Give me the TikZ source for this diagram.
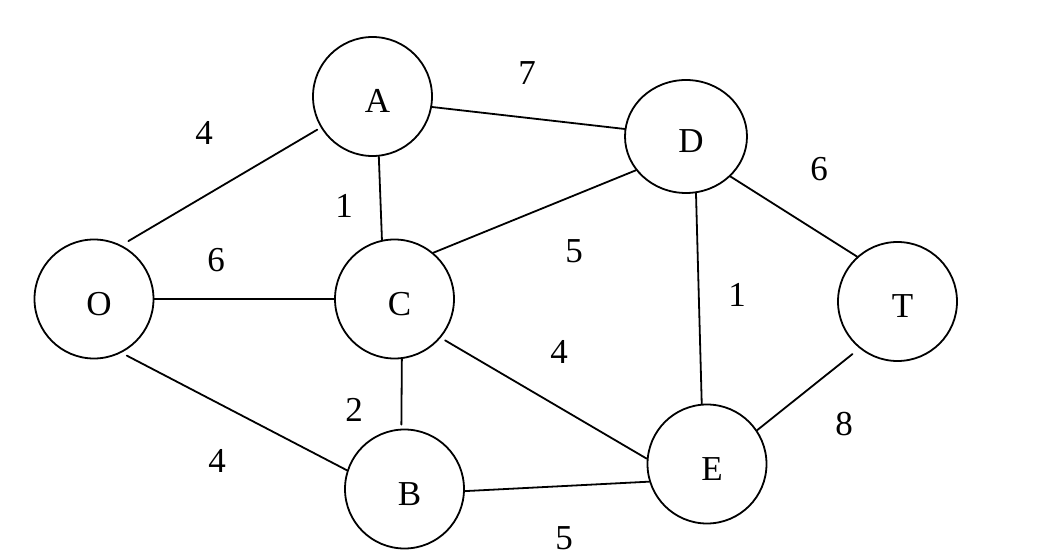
\documentclass[tikz,border=0pt]{standalone}
\usepackage{fontspec}
\setmainfont{Liberation Serif}
\usetikzlibrary{shapes.geometric}

\begin{document}
\begin{tikzpicture}[line cap=round,line join=round,x=1pt,y=1pt,
    vertex/.style={draw=black,line width=1.8pt,circle,minimum size=119pt,inner sep=0pt,text height=32pt,text depth=0pt,
      execute at begin node={\hspace*{10pt}},font=\fontsize{35}{42}\selectfont},
    oval/.style={vertex,ellipse,minimum width=122pt,minimum height=113pt},
    edge/.style={draw=black,line width=1.8pt},
    weight/.style={inner sep=0pt,font=\fontsize{35}{42}\selectfont}]
    \useasboundingbox (0,0) rectangle (1062,555);
    \node[vertex] (O) at (94,256) {O};
    \node[vertex] (A) at (372.5,458.5) {A};
    \node[vertex] (C) at (394.5,256) {C};
    \node[vertex] (B) at (404.5,66) {B};
    \node[oval] (D) at (686,418.5) {D};
    \node[vertex] (E) at (707,91) {E};
    \node[vertex] (T) at (897.5,253.5) {T};
    \draw[edge,shorten <=8pt,shorten >=4pt] (O.63) -- (A.211);
    \draw[edge] (O.east) -- (C.west);
    \draw[edge,shorten <=6pt] (O.297) -- (B.162);
    \draw[edge] (A.276) -- (C.102);
    \draw[edge] (A.350) -- (D.173);
    \draw[edge] (C.50) -- (D.214);
    \draw[edge,shorten <=5pt] (C.320) -- (E.175);
    \draw[edge,shorten >=4pt] (C.277) -- (B.93);
    \draw[edge] (B.358) -- (E.197);
    \draw[edge] (D.280) -- (E.95);
    \draw[edge] (D.318) -- (T.132);
    \draw[edge,shorten <=9pt] (T.231) -- (E.34);
    \foreach \w/\x/\y [count=\i] in {4/204/422,7/527/482,6/819/386,1/344/349,6/216/295,5/574/304,1/737/260,4/559/203,2/354/145,4/217/94,8/844/131,5/564/17}
    \node[weight] (w\i) at (\x,\y) {\w};
    \end{tikzpicture}
\end{document}
